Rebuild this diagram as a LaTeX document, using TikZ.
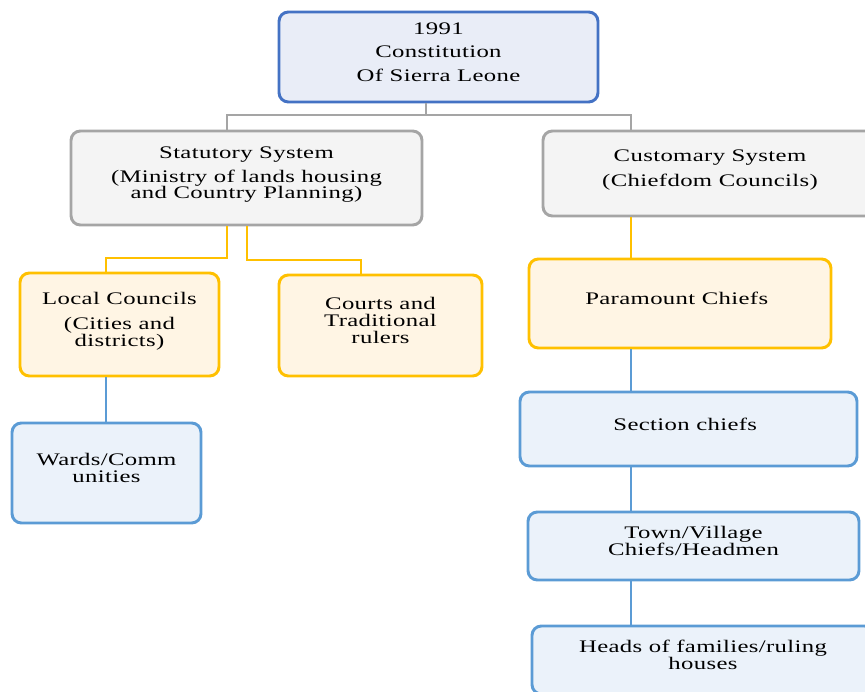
\documentclass[tikz,border=0pt]{standalone}
\usepackage{fontspec}
\setmainfont{Liberation Serif}[FakeStretch=1.4,LetterSpace=2]
\usepackage{tikz}
\usetikzlibrary{positioning}
\definecolor{constborder}{RGB}{68,114,196}
\definecolor{constfill}{RGB}{233,237,247}
\definecolor{systemborder}{RGB}{165,165,165}
\definecolor{systemfill}{RGB}{244,244,244}
\definecolor{authborder}{RGB}{255,192,0}
\definecolor{authfill}{RGB}{255,245,228}
\definecolor{unitborder}{RGB}{91,155,213}
\definecolor{unitfill}{RGB}{235,242,250}
\tikzset{
boxtext/.style={
  align=center,
  font=\fontsize{13.25}{12.6}\selectfont,
  text=black,
  text depth=7.5pt
},
orgbox/.style={
  draw,
  rounded corners=7pt,
  line width=2.2pt,
  inner sep=2pt,
  boxtext
},
constblock/.style={
  orgbox,
  draw=constborder,
  fill=constfill
},
systemblock/.style={
  orgbox,
  draw=systemborder,
  fill=systemfill
},
authblock/.style={
  orgbox,
  draw=authborder,
  fill=authfill
},
unitblock/.style={
  orgbox,
  draw=unitborder,
  fill=unitfill
},
link/.style={
  line width=2.2pt
},
greylink/.style={
  link,
  draw=systemborder
},
yellowlink/.style={
  link,
  draw=authborder
},
bluelink/.style={
  link,
  draw=unitborder
}
}
\begin{document}
\begin{tikzpicture}[x=0.75pt, y=-0.75pt]
      \useasboundingbox (0,0) rectangle (865,692);
      \clip (0,0) rectangle (865,692);

      % Constitution
      \node[constblock, minimum width=239.25pt, minimum height=67.5pt] (const) at (438.5,57) {
        1991\\[5pt]Constitution\\[5pt]Of Sierra Leone
      };

      % Two systems
      \node[systemblock, minimum width=263.25pt, minimum height=70.5pt] (stat) at (246.5,178) {
        Statutory System\\[4.8pt](Ministry of lands housing\\and Country Planning)
      };
      \node[systemblock, minimum width=250.5pt, minimum height=63.75pt] (cust) at (710,173.5) {
        Customary System\\[6.2pt](Chiefdom Councils)
      };

      % Statutory side
      \node[authblock, minimum width=149.25pt, minimum height=77.25pt] (local) at (119.5,324.5) {
        Local Councils\\[6.2pt](Cities and\\districts)
      };
      \node[authblock, minimum width=152.25pt, minimum height=75.75pt] (courts) at (380.5,325.5) {
        Courts and\\Traditional\\rulers
      };
      \node[unitblock, minimum width=141.75pt, minimum height=75pt] (wards) at (106.5,473) {
        Wards/Comm\\unities
      };

      % Customary side
      \node[authblock, minimum width=226.5pt, minimum height=66.75pt] (para) at (680,303.5) {
        Paramount Chiefs
      };
      \node[unitblock, minimum width=252.75pt, minimum height=55.5pt] (section) at (688.5,429) {
        Section chiefs
      };
      \node[unitblock, minimum width=248.25pt, minimum height=51pt] (town) at (693.5,546) {
        Town/Village\\Chiefs/Headmen
      };
      \node[unitblock, minimum width=256.5pt, minimum height=51pt] (heads) at (703,660) {
        Heads of families/ruling\\houses
      };

      % Split points
      \coordinate (topsplit) at (426,115);
      \coordinate (statin) at (227,115);
      \coordinate (custin) at (631,115);
      \coordinate (localin) at (106,258);
      \coordinate (localout) at (227,258);
      \coordinate (courtsout) at (247,260);
      \coordinate (courtsin) at (361,260);

      % Constitution to systems
      \draw[greylink] (const.south -| topsplit) -- (topsplit);
      \draw[greylink] (statin |- stat.north) -- (statin) -- (custin) -- (custin |- cust.north);

      % Statutory to councils and courts
      \draw[yellowlink] (localout |- stat.south) -- (localout) -- (localin) -- (localin |- local.north);
      \draw[yellowlink] (courtsout |- stat.south) -- (courtsout) -- (courtsin) -- (courtsin |- courts.north);
      \draw[bluelink] (localin |- local.south) -- (localin |- wards.north);

      % Customary chain
      \draw[yellowlink] (custin |- cust.south) -- (custin |- para.north);
      \draw[bluelink] (custin |- para.south) -- (custin |- section.north);
      \draw[bluelink] (custin |- section.south) -- (custin |- town.north);
      \draw[bluelink] (custin |- town.south) -- (custin |- heads.north);
    \end{tikzpicture}
\end{document}
